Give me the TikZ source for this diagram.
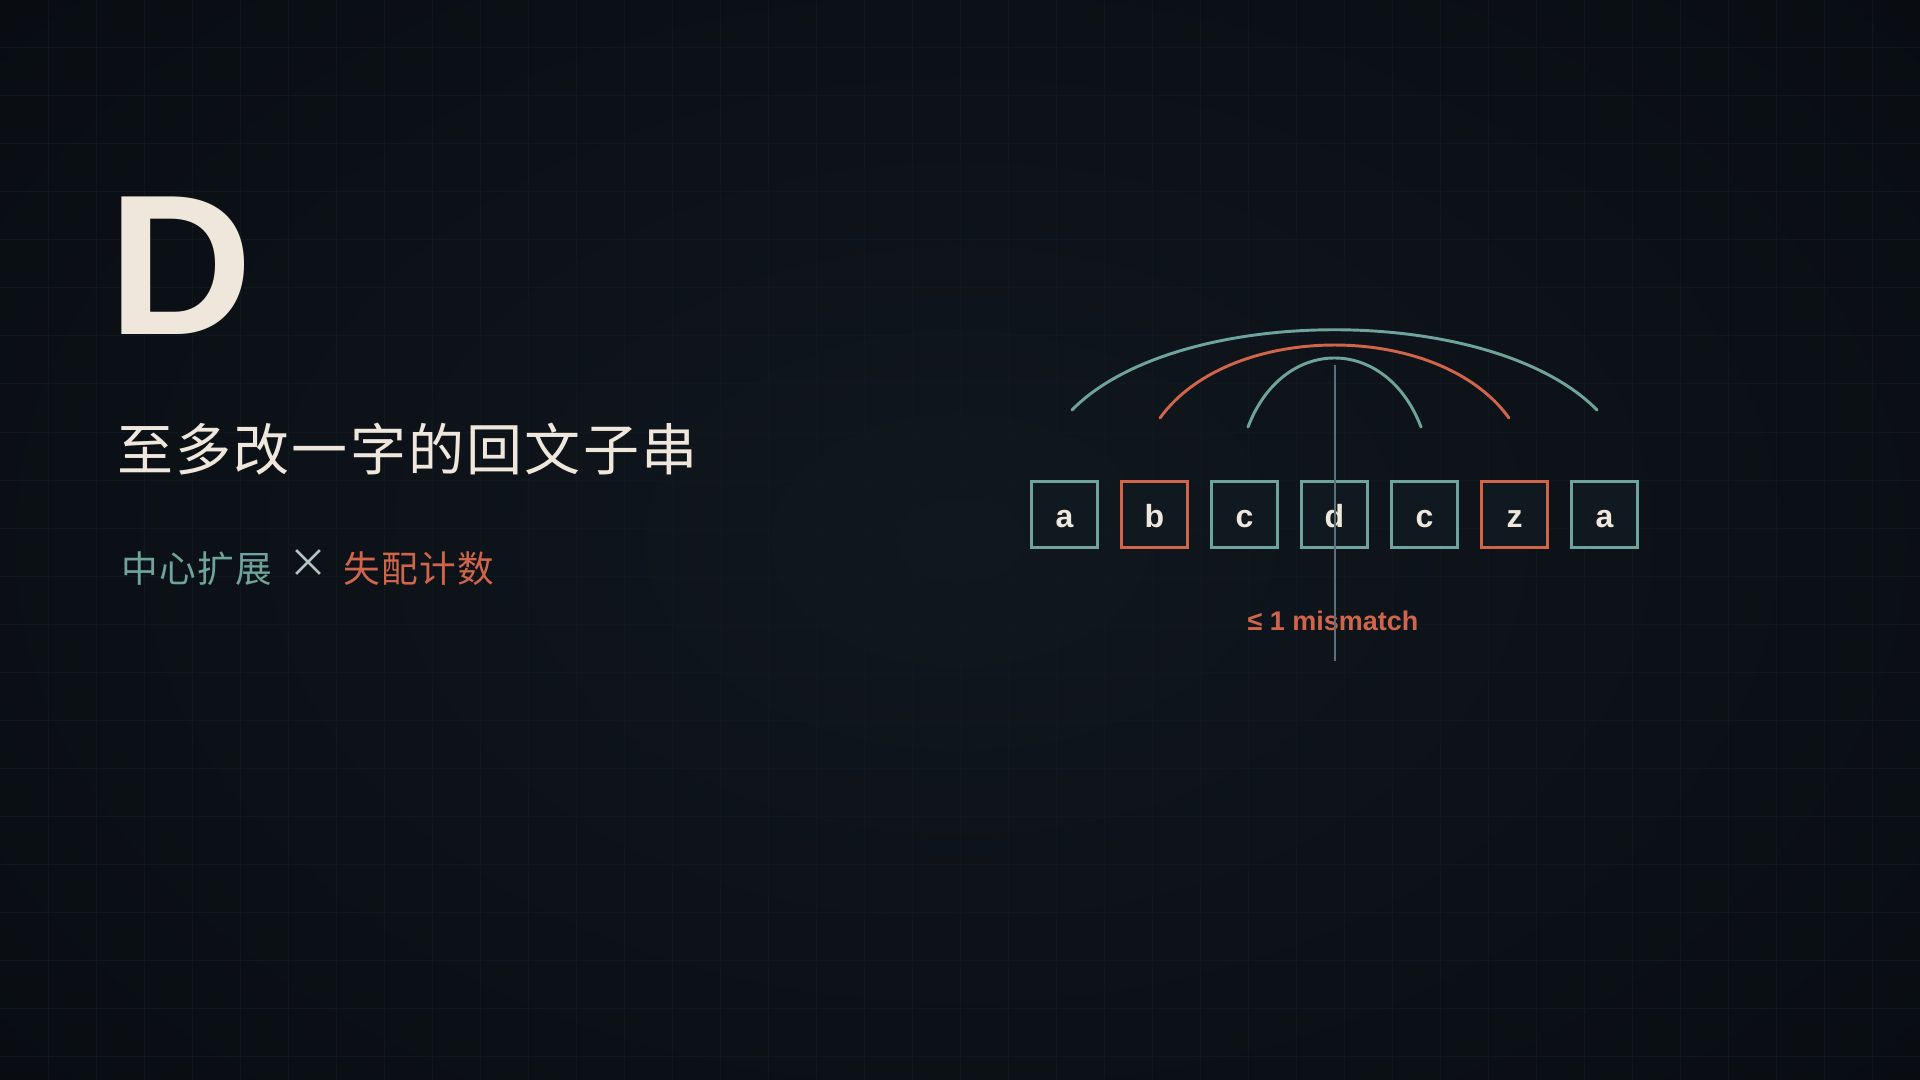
\documentclass[tikz,border=0pt]{standalone}
\usepackage{fontspec}
\setmainfont{Liberation Sans}
\newfontfamily\cjk[LetterSpace=4]{Noto Sans CJK SC}
\newfontfamily\cjkplain{Noto Sans CJK SC}
\definecolor{bgin}{HTML}{10171E}
\definecolor{bgout}{HTML}{090D12}
\definecolor{gridcol}{HTML}{10171E}
\definecolor{teal}{HTML}{6FA39D}
\definecolor{rust}{HTML}{D0654A}
\definecolor{cream}{HTML}{EFE7DC}
\definecolor{boxfill}{HTML}{0F191F}
\definecolor{axis}{HTML}{5B707B}
\definecolor{crossc}{HTML}{B3C5C1}
\begin{document}
\begin{tikzpicture}[x=0.75pt,y=-0.75pt,
  gridline/.style={draw=gridcol,line width=0.75pt},
  cell/.style={draw=teal,fill=boxfill,line width=1.9pt,minimum width=49.5pt,minimum height=49.5pt,inner sep=0pt,text=cream,font=\fontsize{24pt}{24pt}\selectfont\bfseries},
  badcell/.style={cell,draw=rust},
  arcline/.style={line width=2.2pt,line cap=round},
  txt/.style={inner sep=0pt,anchor=base west}]
\useasboundingbox (0,0) rectangle (1920,1080);
\shade[inner color=bgin,outer color=bgout] (-300,-300) rectangle (2220,1380);
\foreach \gx in {48,96,...,1872} \draw[gridline] (\gx,0) -- (\gx,1080);
\foreach \gy in {48,96,...,1056} \draw[gridline] (0,\gy) -- (1920,\gy);
% left text
\node[txt,text=cream,font=\fontsize{150pt}{150pt}\selectfont\bfseries] (bigD) at (108,335) {D};
\node[txt,text=cream,font=\cjk\fontsize{42pt}{42pt}\selectfont] (title) at (117,470) {至多改一字的回文子串};
\node[txt,text=teal,font=\cjk\fontsize{27.5pt}{27.5pt}\selectfont] (sub1) at (121,582) {中心扩展};
\node[inner sep=0pt,text=crossc,font=\cjkplain\fontsize{30pt}{30pt}\selectfont\addfontfeature{Weight=300}] (cross) at (308,564) {×};
\node[txt,text=rust,font=\cjk\fontsize{27.5pt}{27.5pt}\selectfont] (sub2) at (343,582) {失配计数};
% cells
\node[cell] (c1) at (1064.5,514.5) {};
\node[badcell] (c2) at (1154.5,514.5) {};
\node[cell] (c3) at (1244.5,514.5) {};
\node[cell] (c4) at (1334.5,514.5) {};
\node[cell] (c5) at (1424.5,514.5) {};
\node[badcell] (c6) at (1514.5,514.5) {};
\node[cell] (c7) at (1604.5,514.5) {};
\foreach \n/\l in {c1/a,c2/b,c3/c,c4/d,c5/c,c6/z,c7/a}
  \node[txt,anchor=base,text=cream,font=\fontsize{24pt}{24pt}\selectfont\bfseries] at (\n.center |- 0,527) {\l};
% arcs
\draw[arcline,teal] (1072,410) .. controls (1177,303) and (1492,303) .. (1597,410);
\draw[arcline,rust] (1160,418) .. controls (1230,320.7) and (1439,320.7) .. (1509,418);
\draw[arcline,teal] (1248,427) .. controls (1283,335) and (1386,335) .. (1421,427);
% label
\node[txt,anchor=base,text=rust,font=\fontsize{20.25pt}{20.25pt}\selectfont\bfseries] (lbl) at (1333,630) {≤ 1 mismatch};
% axis
\coordinate (axtop) at (1335,365);
\coordinate (axbot) at (1335,661);
\draw[axis,line width=1.1pt] (axtop) -- (axbot);
\end{tikzpicture}
\end{document}
